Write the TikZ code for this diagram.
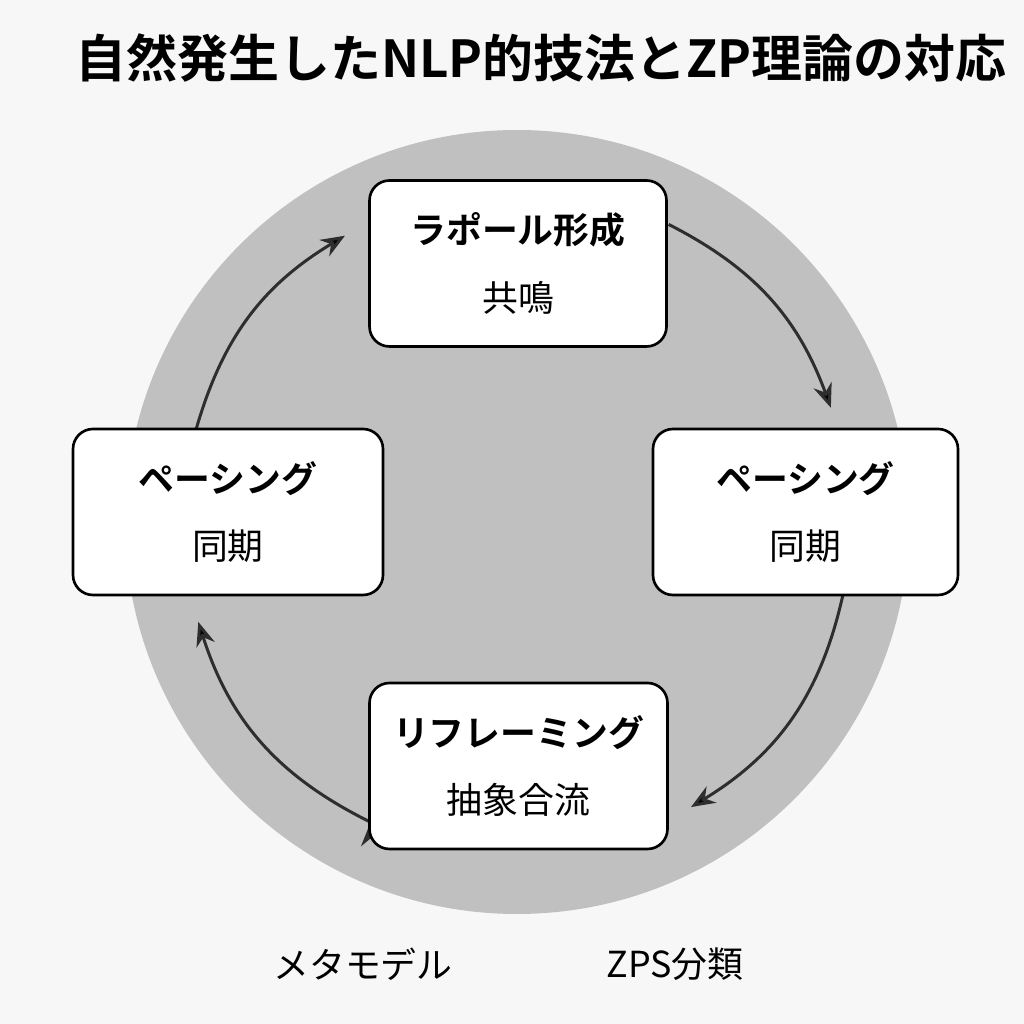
\documentclass[tikz,border=0pt]{standalone}
\usepackage{fontspec}
\setmainfont{Noto Sans CJK JP}[BoldFont={Noto Sans CJK JP Bold}]
\usetikzlibrary{arrows.meta}
\definecolor{bg}{HTML}{F7F7F7}
\definecolor{ring}{HTML}{C0C0C0}
\definecolor{arr}{HTML}{2E2E2E}

\begin{document}
\begin{tikzpicture}[
    box/.style={draw=black, line width=0.75pt, fill=white, rounded corners=0.2cm,
      minimum width=3.0cm, minimum height=1.66cm, align=center,
      font=\fontsize{10.2pt}{19.3pt}\selectfont},
    lbl/.style={font=\fontsize{10.2pt}{12pt}\selectfont},
    flow/.style={-{Stealth[length=0.24cm,width=0.19cm]}, draw=arr, line width=0.85pt}]
  \useasboundingbox[fill=bg] (0,0) rectangle (10.24,10.24);
  \node (title) at (5.41,9.66) {\fontsize{14.5pt}{18pt}\selectfont\bfseries 自然発生したNLP的技法とZP理論の対応};

  \coordinate (c) at (5.17,5.02);
  \fill[ring] (c) circle (3.92);

  % points on the ring where the arrows start and end
  \path (c) ++(164:3.34) coordinate (a1)  (c) ++(121:3.34) coordinate (a2)
        (c) ++(63:3.34) coordinate (a3)   (c) ++(20:3.34) coordinate (a4)
        (c) ++(-12.7:3.34) coordinate (a5) (c) ++(-58.6:3.34) coordinate (a6)
        (c) ++(-116:3.34) coordinate (a7) (c) ++(197.4:3.34) coordinate (a8);

  \path[flow]
    (a1) edge [bend left=21.5] (a2)
    (a3) edge [bend left=21.5] (a4)
    (a5) edge [bend left=23] (a6)
    (a7) edge [bend left=23] (a8);

  \node[box, minimum width=2.97cm] (rap) at (5.18,7.605) {\bfseries ラポール形成\\共鳴};
  \node[box, minimum width=3.10cm] (pl) at (2.28,5.12) {\bfseries ペーシング\\同期};
  \node[box, minimum width=3.05cm] (pr) at (8.055,5.12) {\bfseries ペーシング\\同期};
  \node[box, minimum width=2.98cm] (ref) at (5.185,2.58) {\bfseries リフレーミング\\抽象合流};

  \node[lbl] (meta) at (3.63,0.60) {メタモデル};
  \node[lbl] (zps) at (6.75,0.60) {ZPS分類};
\end{tikzpicture}
\end{document}
